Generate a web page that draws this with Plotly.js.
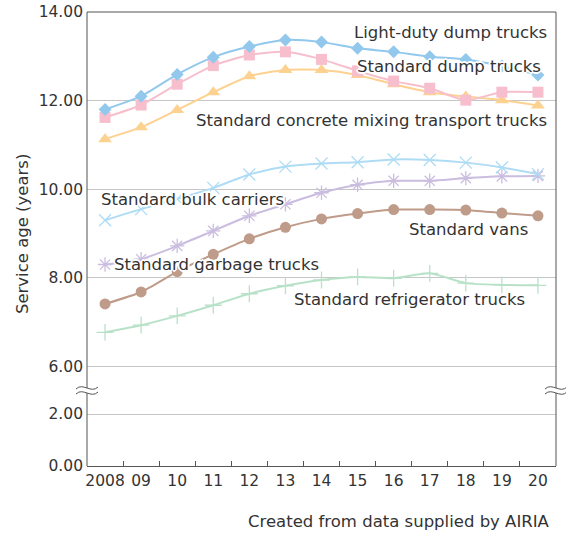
<!DOCTYPE html>
<html>
<head>
<meta charset="utf-8">
<script src="https://cdn.plot.ly/plotly-3.0.1.min.js"></script>
<style>html,body{margin:0;padding:0;background:#fff;}#chart{width:566px;height:533px;}</style>
</head>
<body>
<div id="chart"></div>
<script>
const years = ["2008","09","10","11","12","13","14","15","16","17","18","19","20"];
const lightDump   = [11.80,12.10,12.59,12.98,13.22,13.37,13.32,13.18,13.10,12.99,12.93,12.78,12.58];
const stdDump     = [11.62,11.90,12.37,12.79,13.03,13.10,12.93,12.67,12.44,12.28,12.01,12.19,12.19];
const concrete    = [11.13,11.40,11.79,12.19,12.55,12.69,12.69,12.58,12.37,12.19,12.09,12.01,11.89];
const bulk        = [9.30,9.55,9.78,10.03,10.33,10.51,10.58,10.61,10.67,10.66,10.60,10.49,10.34];
const garbage     = [8.30,8.42,8.72,9.06,9.40,9.66,9.92,10.10,10.19,10.19,10.25,10.29,10.30];
const vans        = [7.41,7.68,8.14,8.53,8.88,9.14,9.33,9.45,9.54,9.54,9.53,9.46,9.40];
const fridge      = [6.77,6.93,7.14,7.38,7.64,7.82,7.95,8.02,7.99,8.10,7.88,7.84,7.83];

const seriesNames = ["Light-duty dump trucks","Standard dump trucks","Standard concrete mixing transport trucks",
  "Standard bulk carriers","Standard garbage trucks","Standard vans","Standard refrigerator trucks"];

const FONT = "DejaVu Sans, Verdana, sans-serif";
const TXT = "#333333";

function tr(y, name, color, symbol, size, open) {
  return {
    x: years, y: y, name: name, type: "scatter", mode: "lines+markers",
    xaxis: "x", yaxis: "y",
    line: {color: color, width: 2, shape: "spline", smoothing: 0.6},
    marker: open ? {symbol: symbol, size: size, color: color, line: {color: color, width: 1.3}}
                 : {symbol: symbol, size: size, color: color},
    hoverinfo: "x+y+name"
  };
}

const data = [
  {x: years, y: years.map(() => null), xaxis: "x", yaxis: "y2", type: "scatter", mode: "lines", showlegend: false, hoverinfo: "skip"},
  tr(fridge,  seriesNames[6], "#b8e2c8", "cross-thin-open", 12, true),
  tr(vans,    seriesNames[5], "#bf9b8a", "circle", 11, false),
  tr(garbage, seriesNames[4], "#cbbde0", "asterisk-open", 12, true),
  tr(bulk,    seriesNames[3], "#aedcf4", "x-thin-open", 12, true),
  tr(concrete,seriesNames[2], "#fdd18f", "triangle-up", 12, false),
  tr(stdDump, seriesNames[1], "#f7bfcd", "square", 11, false),
  tr(lightDump,seriesNames[0],"#92c8ec", "diamond", 10, false)
];

const brk = 76/454;
const shadow = "-1px -1px 0 #fff, 1px -1px 0 #fff, -1px 1px 0 #fff, 1px 1px 0 #fff, 0 2px 0 #fff, 0 -2px 0 #fff, 2px 0 0 #fff, -2px 0 0 #fff";

function lab(text, x, y, xanchor) {
  return {text: text, xref: "paper", yref: "paper", x: x, y: y, xanchor: xanchor, yanchor: "middle",
    showarrow: false, font: {family: FONT, size: 16.5, color: TXT, shadow: shadow}};
}

function breakShapes(xa) {
  return [
    {type: "path", xref: "paper", yref: "paper", xsizemode: "pixel", ysizemode: "pixel",
     xanchor: xa, yanchor: brk, layer: "above",
     path: "M-11,1 C-4,8 4,-4 11,3 L11,-2 C4,-9 -4,3 -11,-4 Z",
     fillcolor: "#ffffff", line: {color: "#ffffff", width: 0}},
    {type: "path", xref: "paper", yref: "paper", xsizemode: "pixel", ysizemode: "pixel",
     xanchor: xa, yanchor: brk, layer: "above",
     path: "M-11,1 C-4,8 4,-4 11,3", line: {color: "#555555", width: 1}},
    {type: "path", xref: "paper", yref: "paper", xsizemode: "pixel", ysizemode: "pixel",
     xanchor: xa, yanchor: brk, layer: "above",
     path: "M-11,-4 C-4,3 4,-9 11,-2", line: {color: "#555555", width: 1}}
  ];
}

const layout = {
  width: 566, height: 533,
  margin: {l: 87, r: 10, t: 12, b: 67},
  paper_bgcolor: "#ffffff", plot_bgcolor: "#ffffff",
  showlegend: false,
  font: {family: FONT, color: TXT},
  xaxis: {type: "category", anchor: "y2", showline: true, linecolor: "#555555", linewidth: 1,
    ticks: "inside", tickson: "boundaries", ticklen: 5, tickcolor: "#555555", tickangle: 0,
    showgrid: false, zeroline: false, tickfont: {family: FONT, size: 15.5, color: TXT},
    range: [-0.5, 12.5], fixedrange: true},
  yaxis: {domain: [brk, 1], range: [14 - 378/44.3, 14], tickvals: [6,8,10,12,14],
    tickformat: ".2f", showgrid: true, gridcolor: "#c6c6c6", gridwidth: 1, zeroline: false,
    showline: false, ticks: "", anchor: "x", ticklabelstandoff: 3, tickfont: {family: FONT, size: 15.5, color: TXT}},
  yaxis2: {domain: [0, brk], range: [0, 76/26], tickvals: [0,2], tickformat: ".2f",
    showgrid: true, gridcolor: "#c6c6c6", gridwidth: 1, zeroline: false, showline: false,
    ticks: "", anchor: "x", ticklabelstandoff: 3, tickfont: {family: FONT, size: 15.5, color: TXT}},
  shapes: [
    {type: "line", xref: "paper", yref: "paper", x0: 0, x1: 0, y0: 0, y1: 1, line: {color: "#555555", width: 1}, layer: "above"},
    {type: "line", xref: "paper", yref: "paper", x0: 1, x1: 1, y0: 0, y1: 1, line: {color: "#555555", width: 1}, layer: "above"},
    {type: "line", xref: "paper", yref: "paper", x0: 0, x1: 1, y0: 1, y1: 1, line: {color: "#555555", width: 1}, layer: "above"}
  ].concat(breakShapes(0), breakShapes(1)),
  annotations: [
    lab(seriesNames[0], 0.985, 0.954, "right"),
    lab(seriesNames[1], 0.972, 0.881, "right"),
    lab(seriesNames[2], 0.985, 0.760, "right"),
    lab(seriesNames[3], 0.026, 0.588, "left"),
    lab(seriesNames[5], 0.945, 0.520, "right"),
    lab(seriesNames[4], 0.053, 0.443, "left"),
    lab(seriesNames[6], 0.437, 0.366, "left"),
    {text: "Service age (years)", xref: "paper", yref: "paper", x: -0.1386, y: 0.513,
     textangle: -90, showarrow: false, xanchor: "center", yanchor: "middle",
     font: {family: FONT, size: 16.5, color: TXT}},
    {text: "Created from data supplied by AIRIA", xref: "paper", yref: "paper", x: 0.991, y: -0.123,
     xanchor: "right", yanchor: "middle", showarrow: false, font: {family: FONT, size: 16.5, color: TXT}}
  ]
};

Plotly.newPlot("chart", data, layout, {displayModeBar: false, staticPlot: true});
</script>
</body>
</html>
